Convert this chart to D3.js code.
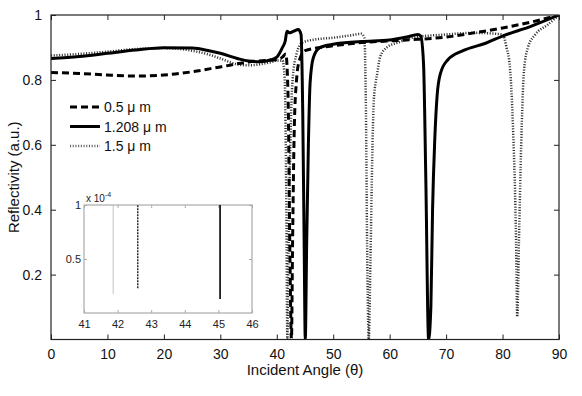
<!DOCTYPE html>
<html lang="en">
<head>
<meta charset="UTF-8">
<title>Reflectivity vs Incident Angle</title>
<script src="https://d3js.org/d3.v7.min.js"></script>
<style>
  body { margin: 0; background: #fff; }
  svg { font-family: "Liberation Sans", Arial, sans-serif; }
</style>
</head>
<body>
<div id="chart"></div>
<script>
// 0.5 um (dashed)
const angle05 = [0, 5, 10, 15, 20, 25, 30, 35, 38, 40, 41, 41.6, 42.0, 42.3, 42.6, 42.8, 43.1, 43.5, 44, 45, 50, 55, 60, 65, 70, 75, 80, 85, 90];
const refl05  = [0.823, 0.82, 0.815, 0.812, 0.815, 0.825, 0.84, 0.855, 0.86, 0.862, 0.87, 0.88, 0.75, 0.3, 0, 0.3, 0.65, 0.8, 0.86, 0.89, 0.905, 0.915, 0.92, 0.925, 0.932, 0.945, 0.96, 0.978, 1.0];
// 1.208 um (solid)
const angle12 = [0, 5, 10, 15, 20, 25, 28, 30, 33, 35, 37, 39, 40, 41, 41.5, 41.8, 42.3, 43, 43.8, 44.3, 44.6, 44.85, 45.05, 45.3, 45.6, 45.9, 46.5, 47.7, 50, 55, 60, 63, 65, 65.5, 66, 66.4, 66.9, 67.3, 67.6, 68, 68.4, 69, 70.2, 73, 77, 80, 85, 90];
const refl12  = [0.866, 0.872, 0.882, 0.892, 0.899, 0.898, 0.89, 0.882, 0.866, 0.858, 0.856, 0.862, 0.87, 0.9, 0.92, 0.95, 0.945, 0.95, 0.955, 0.94, 0.7, 0.3, 0, 0.3, 0.6, 0.79, 0.87, 0.9, 0.91, 0.918, 0.923, 0.932, 0.94, 0.935, 0.85, 0.5, 0, 0.1, 0.4, 0.62, 0.75, 0.82, 0.86, 0.89, 0.913, 0.935, 0.965, 1.0];
// 1.5 um (dotted)
const angle15 = [0, 5, 10, 15, 20, 25, 28, 30, 33, 35, 37, 39, 40, 41, 41.4, 41.7, 41.87, 42.1, 42.4, 42.8, 43.5, 44.5, 47, 50, 53, 55, 55.5, 55.8, 56.0, 56.3, 56.6, 56.9, 57.2, 57.8, 58.3, 59.5, 61.8, 64, 70, 75, 80, 80.7, 81.3, 81.9, 82.4, 82.6, 82.9, 83.3, 83.8, 84.5, 85.8, 88, 90];
const refl15  = [0.875, 0.88, 0.887, 0.895, 0.898, 0.89, 0.878, 0.866, 0.848, 0.845, 0.848, 0.855, 0.86, 0.86, 0.8, 0.4, 0, 0.3, 0.6, 0.8, 0.88, 0.915, 0.925, 0.93, 0.937, 0.942, 0.93, 0.7, 0.3, 0, 0.25, 0.55, 0.74, 0.82, 0.87, 0.9, 0.917, 0.93, 0.94, 0.945, 0.94, 0.9, 0.84, 0.63, 0.3, 0.07, 0.3, 0.6, 0.83, 0.9, 0.94, 0.97, 1.0];

const legendLabels = ["0.5 \u03bc m", "1.208 \u03bc m", "1.5 \u03bc m"];
const xTicks = [0, 10, 20, 30, 40, 50, 60, 70, 80, 90];
const yTicks = [0.2, 0.4, 0.6, 0.8, 1];

// inset: minimum position (angle) and depth (x 1e-4) of each resonance
const insetAngles = [42.6, 45.05, 41.87];
const insetMins   = [0.23, 0.13, 0.18];
const insetXTicks = [41, 42, 43, 44, 45, 46];
const insetYTicks = [0.5, 1];

const W = 582, H = 396;
const m = { left: 51, right: 559, top: 15, bottom: 339.5 };

const svg = d3.select("#chart").append("svg")
  .attr("width", W).attr("height", H);

const x = d3.scaleLinear().domain([0, 90]).range([m.left, m.right]);
const y = d3.scaleLinear().domain([0, 1]).range([m.bottom, m.top]);

const styles = [
  { color: "#000", width: 3, dash: "7,4" },
  { color: "#000", width: 3, dash: null },
  { color: "#333", width: 2.5, dash: "1.1,1.6" }
];

svg.append("clipPath").attr("id", "clip")
  .append("rect").attr("x", m.left).attr("y", m.top)
  .attr("width", m.right - m.left).attr("height", m.bottom - m.top);

const series = [
  angle05.map((a, i) => [a, refl05[i]]),
  angle12.map((a, i) => [a, refl12[i]]),
  angle15.map((a, i) => [a, refl15[i]])
];

const line = d3.line().x(d => x(d[0])).y(d => y(d[1])).curve(d3.curveMonotoneX);

const plot = svg.append("g").attr("clip-path", "url(#clip)");
[2, 0, 1].forEach(i => {
  plot.append("path").datum(series[i])
    .attr("fill", "none")
    .attr("stroke", styles[i].color)
    .attr("stroke-width", styles[i].width)
    .attr("stroke-dasharray", styles[i].dash)
    .attr("d", line);
});

// axes (matlab style box, ticks inward)
const axColor = "#222";
function styleAxis(g) {
  g.select(".domain").remove();
  g.selectAll("line").attr("stroke", axColor);
  g.selectAll("text").attr("fill", "#111").style("font-size", "14px");
}
svg.append("g").attr("transform", `translate(0,${m.bottom})`)
  .call(d3.axisBottom(x).tickValues(xTicks).tickSizeInner(-5).tickPadding(10))
  .call(styleAxis);
svg.append("g").attr("transform", `translate(0,${m.top})`)
  .call(d3.axisTop(x).tickValues(xTicks).tickSizeInner(-5).tickFormat(""))
  .call(styleAxis);
svg.append("g").attr("transform", `translate(${m.left},0)`)
  .call(d3.axisLeft(y).tickValues(yTicks).tickSizeInner(-5).tickPadding(9).tickFormat(d3.format("~g")))
  .call(styleAxis);
svg.append("g").attr("transform", `translate(${m.right},0)`)
  .call(d3.axisRight(y).tickValues(yTicks).tickSizeInner(-5).tickFormat(""))
  .call(styleAxis);
svg.append("rect")
  .attr("x", m.left).attr("y", m.top)
  .attr("width", m.right - m.left).attr("height", m.bottom - m.top)
  .attr("fill", "none").attr("stroke", axColor).attr("stroke-width", 1.2);

svg.append("text").attr("x", (m.left + m.right) / 2).attr("y", 375)
  .attr("text-anchor", "middle").style("font-size", "15px").attr("fill", "#111")
  .text("Incident Angle (\u03b8)");
svg.append("text")
  .attr("transform", `translate(19,${(m.top + m.bottom) / 2}) rotate(-90)`)
  .attr("text-anchor", "middle").style("font-size", "15px").attr("fill", "#111")
  .text("Reflectivity (a.u.)");

// legend
const leg = svg.append("g");
legendLabels.forEach((t, i) => {
  const ly = 107 + i * 19.5;
  leg.append("line").attr("x1", 70).attr("x2", 100).attr("y1", ly).attr("y2", ly)
    .attr("stroke", i === 2 ? "#666" : styles[i].color)
    .attr("stroke-width", styles[i].width)
    .attr("stroke-dasharray", styles[i].dash);
  leg.append("text").attr("x", 104).attr("y", ly + 5)
    .style("font-size", "14px").attr("fill", "#111").text(t);
});

// inset
const ib = { left: 84, right: 252, top: 205, bottom: 313 };
const ix = d3.scaleLinear().domain([41, 46]).range([ib.left, ib.right]);
const iy = d3.scaleLinear().domain([0, 1]).range([ib.bottom, ib.top]);
const inset = svg.append("g");
inset.append("rect").attr("x", ib.left).attr("y", ib.top)
  .attr("width", ib.right - ib.left).attr("height", ib.bottom - ib.top)
  .attr("fill", "#fff").attr("stroke", "#999").attr("stroke-width", 1);
function styleInset(g) {
  g.select(".domain").remove();
  g.selectAll("line").attr("stroke", "#aaa");
  g.selectAll("text").attr("fill", "#222").style("font-size", "11px");
}
inset.append("g").attr("transform", `translate(0,${ib.bottom})`)
  .call(d3.axisBottom(ix).tickValues(insetXTicks).tickSizeInner(-3).tickPadding(7).tickFormat(d3.format("d")))
  .call(styleInset);
inset.append("g").attr("transform", `translate(0,${ib.top})`)
  .call(d3.axisTop(ix).tickValues(insetXTicks).tickSizeInner(-3).tickFormat(""))
  .call(styleInset);
inset.append("g").attr("transform", `translate(${ib.left},0)`)
  .call(d3.axisLeft(iy).tickValues(insetYTicks).tickSizeInner(-3).tickPadding(3).tickFormat(d3.format("~g")))
  .call(styleInset);
inset.append("g").attr("transform", `translate(${ib.right},0)`)
  .call(d3.axisRight(iy).tickValues(insetYTicks).tickSizeInner(-3).tickFormat(""))
  .call(styleInset);

const insetStyles = [
  { color: "#222", width: 1.4, dash: "2,1" },
  { color: "#000", width: 1.6, dash: null },
  { color: "#aaa", width: 1.4, dash: "1,1" }
];
insetAngles.forEach((a, i) => {
  inset.append("path").datum([[a, insetMins[i]], [a, 1]])
    .attr("fill", "none")
    .attr("stroke", insetStyles[i].color)
    .attr("stroke-width", insetStyles[i].width)
    .attr("stroke-dasharray", insetStyles[i].dash)
    .attr("d", d3.line().x(d => ix(d[0])).y(d => iy(d[1])));
});
const mult = inset.append("text").attr("x", ib.left + 2).attr("y", ib.top - 3)
  .style("font-size", "10px").attr("fill", "#222");
mult.append("tspan").text("x 10");
mult.append("tspan").attr("dy", -5).style("font-size", "7px").text("-4");
</script>
</body>
</html>
